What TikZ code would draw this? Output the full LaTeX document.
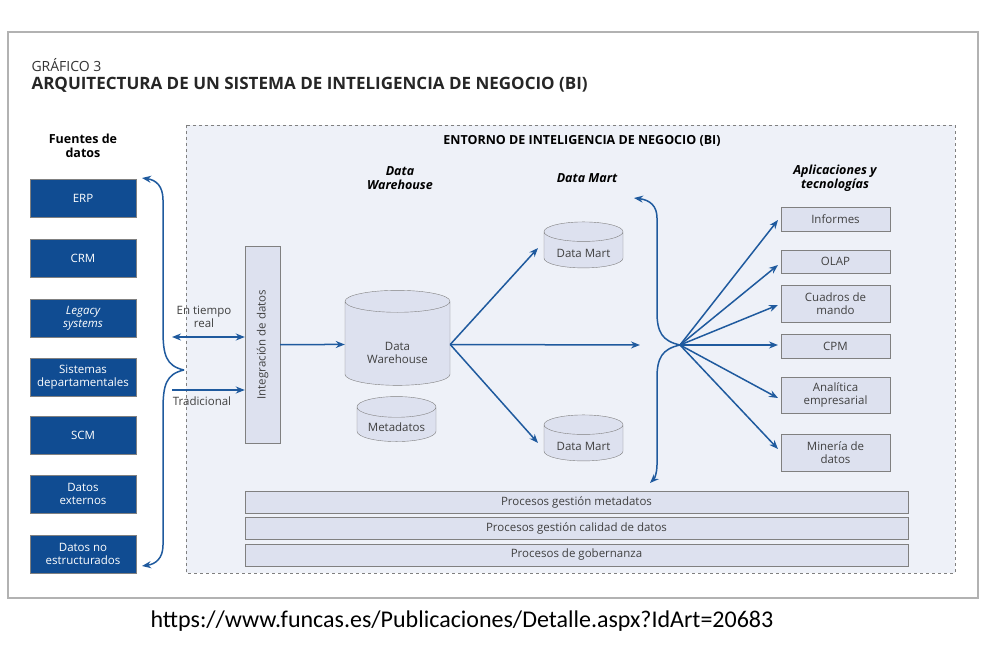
\documentclass[tikz,border=0pt]{standalone}
\usepackage{fontspec}
\setmainfont{Open Sans}
\newfontfamily\urlfont{Carlito}
\usetikzlibrary{shapes.geometric,arrows.meta}
\definecolor{dblue}{HTML}{104C92}
\definecolor{abl}{HTML}{1F5A9E}
\definecolor{bgc}{HTML}{EEF1F8}
\definecolor{boxc}{HTML}{DDE1EF}
\definecolor{edg}{HTML}{808080}
\begin{document}
\begin{tikzpicture}[x=1pt,y=-1pt,
 src/.style={draw=edg,fill=dblue,text=white,minimum width=106pt,minimum height=38pt,font=\fontsize{11.5}{13}\selectfont,align=center,inner sep=1pt},
 app/.style={draw=edg,fill=boxc,text=black!75,minimum width=109pt,font=\fontsize{11.5}{13}\selectfont,align=center,inner sep=1pt},
 bar/.style={draw=edg,fill=boxc,text=black!75,minimum width=663pt,minimum height=22pt,font=\fontsize{11.5}{12}\selectfont,inner sep=1pt},
 cyl/.style={cylinder,shape border rotate=90,draw=edg,fill=boxc,text=black!75,font=\fontsize{11.5}{13}\selectfont,align=center,aspect=0.35,inner sep=1pt},
 hdr/.style={font=\fontsize{12.5}{14}\selectfont\bfseries,align=center},
 arr/.style={abl,line width=1.5pt,-{Stealth[length=9pt,width=7pt]}}]
\useasboundingbox (0,0) rectangle (988,650);
\fill[white] (0,0) rectangle (988,650);
\draw[black!30,line width=1.5pt] (8,598) -- (8,32) -- (978,32) -- (978,598) -- cycle;
\node[anchor=west,font=\fontsize{14}{15}\selectfont,text=black!80] (t1) at (28,65) {GRÁFICO 3};
\node[anchor=west,font=\fontsize{17}{18}\selectfont\bfseries,text=black!85] (t2) at (28,85) {ARQUITECTURA DE UN SISTEMA DE INTELIGENCIA DE NEGOCIO (BI)};
\draw[dashed,edg,fill=bgc] (186,125) rectangle (955,573);
\node[hdr] (h0) at (582,141) {ENTORNO DE INTELIGENCIA DE NEGOCIO (BI)};
\node[hdr] (h1) at (83,146) {Fuentes de\\datos};
\node[hdr,font=\fontsize{12.5}{14}\selectfont\bfseries\itshape] (h2) at (400,178) {Data\\Warehouse};
\node[hdr,font=\fontsize{12.5}{14}\selectfont\bfseries\itshape] (h3) at (587,178) {Data Mart};
\node[hdr,font=\fontsize{12.5}{14}\selectfont\bfseries\itshape] (h4) at (835,178) {Aplicaciones y\\tecnologías};
\node[src] (erp) at (83,198) {ERP};
\node[src] (crm) at (83,258) {CRM};
\node[src] (leg) at (83,318) {\itshape Legacy\\\itshape systems};
\node[src] (sis) at (83,377) {Sistemas\\departamentales};
\node[src] (scm) at (83,435) {SCM};
\node[src] (ext) at (83,494) {Datos\\externos};
\node[src] (noe) at (83,554) {Datos no\\estructurados};
% brace 1
\coordinate (b1t) at (142,178);
\coordinate (b1b) at (142,566);
\coordinate (b1m) at (184,370);
\draw[arr] (b1m) .. controls (166,366) and (163,355) .. (163,330) -- (163,200) .. controls (163,186) and (156,180) .. (b1t);
\draw[arr] (b1m) .. controls (166,374) and (163,385) .. (163,410) -- (163,545) .. controls (163,558) and (156,564) .. (b1b);
\node[draw=edg,fill=boxc,minimum width=35pt,minimum height=197pt,inner sep=0pt] (int) at (262.5,344.5) {};
\node[rotate=90,font=\fontsize{11.5}{12}\selectfont,text=black!75] (intl) at (int.center) {Integración de datos};
\coordinate (rt0) at (172,337);
\coordinate (tr0) at (172,390);
\draw[abl,line width=1.5pt,{Stealth[length=9pt,width=7pt]}-{Stealth[length=9pt,width=7pt]}] (rt0) -- (int.west |- rt0);
\draw[arr] (tr0) -- (int.west |- tr0);
\node[font=\fontsize{11.5}{13}\selectfont,text=black!75,align=center] (lrt) at (204,317) {En tiempo\\real};
\node[font=\fontsize{11.5}{12}\selectfont,text=black!75] (ltr) at (202,401) {Tradicional};
\node[cyl,minimum width=105pt,minimum height=95pt] (dw) at (397.5,344.5) {\\[12pt]Data\\Warehouse};
\node[cyl,minimum width=79pt,minimum height=45pt] (meta) at (396.5,425.5) {\\[0pt]Metadatos};
\node[cyl,minimum width=79pt,minimum height=46pt] (dm1) at (583.5,251) {\\[0pt]Data Mart};
\node[cyl,minimum width=79pt,minimum height=46pt] (dm2) at (583.5,444) {\\[0pt]Data Mart};
\draw[arr] (int.east |- dw) -- (dw.west);
\coordinate (c2) at (640,345);
\draw[arr] (dw.east) -- (c2);
\draw[arr] (dw.east) -- (538,248);
\draw[arr] (dw.east) -- (538,443);
% brace 2
\coordinate (b2m) at (680,345);
\draw[arr] (b2m) .. controls (662,341) and (657,332) .. (657,312) -- (657,218) .. controls (657,206) and (650,200) .. (634,198);
\draw[arr] (b2m) .. controls (662,349) and (657,358) .. (657,378) -- (657,465) .. controls (657,472) and (655,478) .. (650,483);
\node[app,minimum height=24pt] (inf) at (835.5,219) {Informes};
\node[app,minimum height=23pt] (ola) at (835.5,261.5) {OLAP};
\node[app,minimum height=37pt] (cua) at (835.5,303.5) {Cuadros de\\mando};
\node[app,minimum height=24pt] (cpm) at (835.5,346) {CPM};
\node[app,minimum height=36pt] (ana) at (835.5,395) {Analítica\\empresarial};
\node[app,minimum height=37pt] (min) at (835.5,452.5) {Minería de\\datos};
\foreach \n/\y in {inf/220,ola/265,cua/305,cpm/345,ana/398,min/449}
  \draw[arr] (b2m) -- (778,\y);
\node[bar] (p1) at (576.5,502) {Procesos gestión metadatos};
\node[bar] (p2) at (576.5,528) {Procesos gestión calidad de datos};
\node[bar] (p3) at (576.5,555) {Procesos de gobernanza};
\node[font=\urlfont\fontsize{24}{26}\selectfont] (url) at (462,621) {https://www.funcas.es/Publicaciones/Detalle.aspx?IdArt=20683};
\end{tikzpicture}
\end{document}
